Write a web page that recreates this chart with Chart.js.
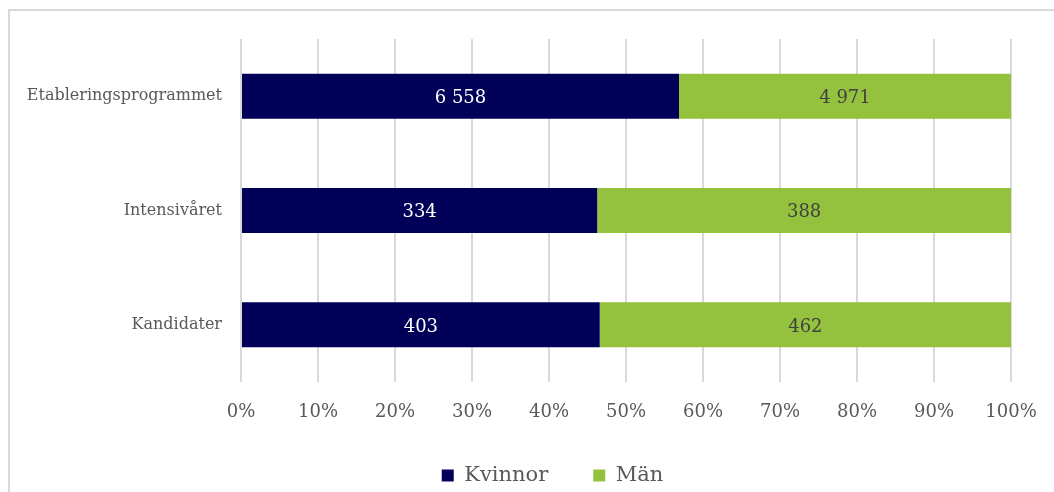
<!DOCTYPE html>
<html>
<head>
<meta charset="UTF-8">
<title>Kvinnor och män</title>
<script src="https://cdn.jsdelivr.net/npm/chart.js"></script>
<style>
    body { margin: 0; background: #fff; }
    #ram { position: absolute; left: 8px; top: 9px; width: 1100px; height: 600px; border: 2px solid #d9d9d9; }
    #diagram { position: absolute; left: 0; top: 0; }
</style>
</head>
<body>
<div id="ram"></div>
<canvas id="diagram" width="1054" height="492"></canvas>
<script>
// Data
const kategorier = ['Etableringsprogrammet', 'Intensivåret', 'Kandidater'];
const kvinnor = [6558, 334, 403];
const man = [4971, 388, 462];
const serienamn = ['Kvinnor', 'Män'];
const xTicks = [0, 10, 20, 30, 40, 50, 60, 70, 80, 90, 100];

const totalt = kategorier.map((k, i) => kvinnor[i] + man[i]);
const andelKvinnor = kvinnor.map((v, i) => v / totalt[i] * 100);
const andelMan = man.map((v, i) => v / totalt[i] * 100);
const antal = [kvinnor, man];

const textFarg = '#595959';
const typsnitt = "'DejaVu Serif', 'Liberation Serif', serif";

function formatera(n) {
    return String(n).replace(/\B(?=(\d{3})+(?!\d))/g, ' ');
}

// skriver antalet mitt i varje stapel
const etiketter = {
    id: 'etiketter',
    afterDatasetsDraw(chart) {
        const ctx = chart.ctx;
        chart.data.datasets.forEach((ds, i) => {
            const meta = chart.getDatasetMeta(i);
            meta.data.forEach((bar, j) => {
                const p = bar.getProps(['x', 'y', 'base'], true);
                ctx.save();
                ctx.font = '18px ' + typsnitt;
                ctx.fillStyle = i === 0 ? '#ffffff' : '#404040';
                ctx.textAlign = 'center';
                ctx.textBaseline = 'middle';
                ctx.fillText(formatera(antal[i][j]), (p.x + p.base) / 2, p.y + 2);
                ctx.restore();
            });
        });
    }
};

// förklaringen ska stå lite till höger om mitten, som i originalet
const flyttaForklaring = {
    id: 'flyttaForklaring',
    afterLayout(chart) {
        chart.legend.left += 47;
        chart.legend.right += 47;
    }
};

const ctx = document.getElementById('diagram').getContext('2d');
new Chart(ctx, {
    type: 'bar',
    data: {
        labels: kategorier,
        datasets: [
            { label: serienamn[0], data: andelKvinnor, backgroundColor: '#000058', barPercentage: 0.394, categoryPercentage: 1 },
            { label: serienamn[1], data: andelMan, backgroundColor: '#94c23e', barPercentage: 0.394, categoryPercentage: 1 }
        ]
    },
    options: {
        indexAxis: 'y',
        responsive: false,
        animation: false,
        layout: { padding: { top: 39, right: 43, left: 0, bottom: -4 } },
        scales: {
            x: {
                stacked: true,
                min: 0,
                max: 100,
                afterBuildTicks: (scale) => { scale.ticks = xTicks.map(v => ({ value: v })); },
                afterFit: (scale) => {
                    scale.height = 38;
                    scale.paddingLeft = 0;
                    scale.paddingRight = 0;
                },
                grid: { color: '#d9d9d9', lineWidth: 2, drawTicks: false },
                border: { display: false },
                ticks: {
                    padding: 20,
                    color: textFarg,
                    font: { family: typsnitt, size: 18 },
                    callback: (v) => v + '%'
                }
            },
            y: {
                stacked: true,
                afterFit: (scale) => { scale.width = 241; },
                grid: { display: false, drawTicks: false },
                border: { display: false },
                ticks: {
                    padding: 19,
                    color: textFarg,
                    font: { family: typsnitt, size: 16 }
                }
            }
        },
        plugins: {
            legend: {
                position: 'bottom',
                labels: {
                    boxWidth: 12,
                    boxHeight: 12,
                    padding: 45,
                    color: textFarg,
                    font: { family: typsnitt, size: 21 }
                }
            },
            tooltip: { enabled: false }
        }
    },
    plugins: [etiketter, flyttaForklaring]
});
</script>
</body>
</html>
